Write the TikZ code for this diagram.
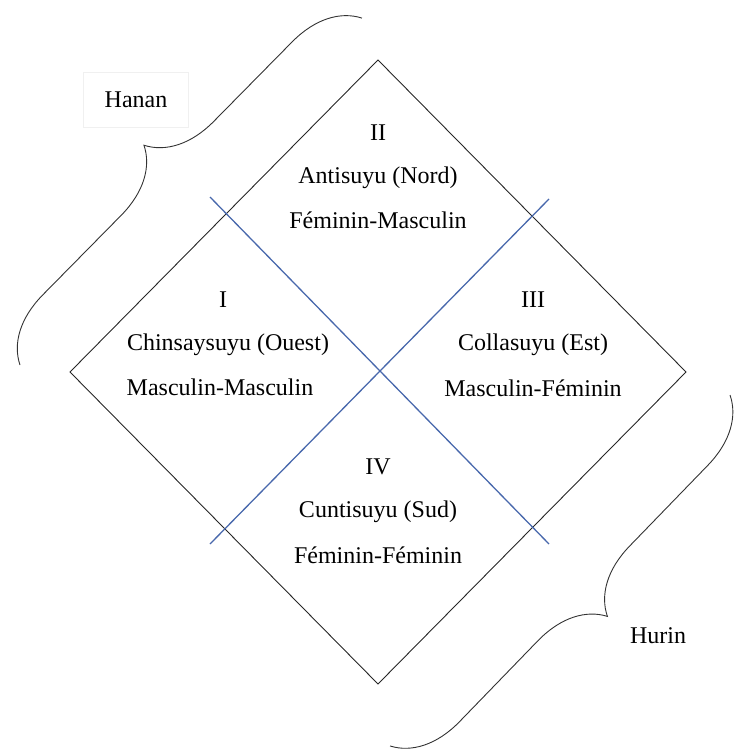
\documentclass[tikz,border=0pt]{standalone}
\usepackage{fontspec}
\setmainfont{Liberation Serif}
\usepackage{tikz}
\usetikzlibrary{decorations.pathreplacing,calc}
\definecolor{axeblue}{RGB}{72,104,172}

\begin{document}
\begin{tikzpicture}[
x=1pt,y=-1pt,
txt/.style={
  font=\fontsize{24}{28}\selectfont,
  inner sep=0pt
  },
losange/.style={
  draw=black!85,
  line width=0.9pt,
  line join=miter
  },
axe/.style={
  draw=axeblue,
  line width=1.3pt
  },
accolade/.style={
  decorate,
  decoration={brace,amplitude=66pt,aspect=0.5},
  draw=black!80,
  line width=0.9pt
  }
]
\useasboundingbox (0,0) rectangle (744,749);
% corners of the diamond
\coordinate (top) at (378,60);
\coordinate (left) at (70,372);
\coordinate (right) at (686,372);
\coordinate (bottom) at (378,684);
\draw[losange] (top) -- (right) -- (bottom) -- (left) -- cycle;
% blue axes
\coordinate (a1) at (210,197);
\coordinate (a2) at (549,544);
\coordinate (b1) at (549,199);
\coordinate (b2) at (210,544);
\draw[axe] (a1) -- (a2);
\draw[axe] (b1) -- (b2);
% quadrants
\node[txt] (q2n) at (378,133) {II};
\node[txt] (q2a) at (378,178) {Antisuyu (Nord)};
\node[txt] (q2b) at (378,220) {Féminin-Masculin};
\node[txt] (q1n) at (223,300) {I};
\node[txt] (q1a) at (228,345) {Chinsaysuyu (Ouest)};
\node[txt] (q1b) at (220,387) {Masculin-Masculin};
\node[txt] (q3n) at (533,300) {III};
\node[txt] (q3a) at (533,345) {Collasuyu (Est)};
\node[txt] (q3b) at (533,388) {Masculin-Féminin};
\node[txt] (q4n) at (378,467) {IV};
\node[txt] (q4a) at (378,512) {Cuntisuyu (Sud)};
\node[txt] (q4b) at (378,555) {Féminin-Féminin};
% halves
\node[txt,draw=black!6,minimum width=105pt,minimum height=55pt] (hanan) at (136,100) {Hanan};
\node[txt] (hurin) at (658,636) {Hurin};
\coordinate (h1) at (20,365);
\coordinate (h2) at (362,18);
\coordinate (u1) at (730,395);
\coordinate (u2) at (390,746);
\draw[accolade] (h1) -- (h2);
\draw[accolade] (u1) -- (u2);
\end{tikzpicture}
\end{document}
